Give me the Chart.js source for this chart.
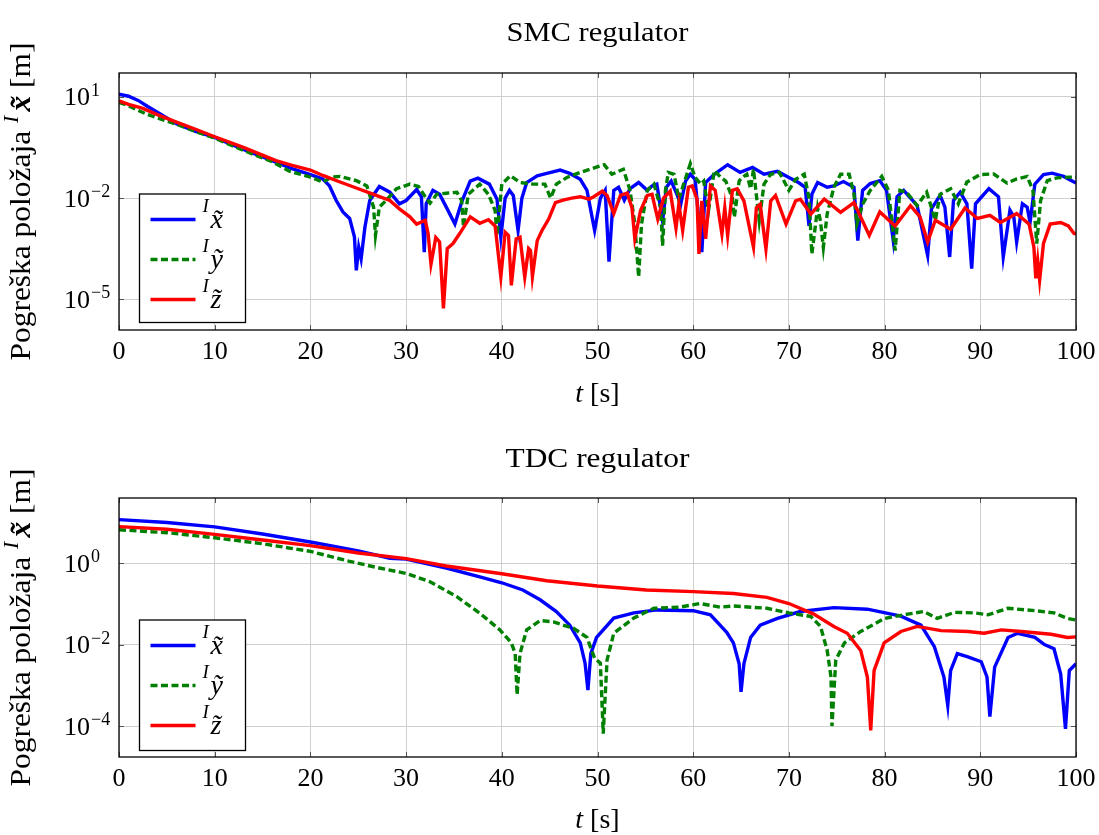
<!DOCTYPE html>
<html>
<head>
<meta charset="utf-8">
<script src="https://cdn.jsdelivr.net/npm/chart.js@4/dist/chart.umd.min.js"></script>
<style>
  html, body { margin: 0; padding: 0; background: #ffffff; }
  #wrap { position: relative; width: 1099px; height: 835px; overflow: hidden; }
  canvas { position: absolute; left: 0; }
  #smc { top: 0; }
  #tdc { top: 417px; }
</style>
</head>
<body>
<div id="wrap">
  <canvas id="smc" width="1099" height="417"></canvas>
  <canvas id="tdc" width="1099" height="418"></canvas>
</div>
<script>
// Position error magnitudes |e| [m] over time t [s], as [t, |e|] pairs.

// ---- SMC regulator ----
const smcX = [
  [0, 12], [1, 10.5], [2, 7.9], [3, 5.2], [4, 3.5], [5, 2.4], [6, 1.6], [8, 0.95], [10, 0.63],
  [13, 0.28], [16, 0.13], [18, 0.076], [20, 0.05], [21.3, 0.037], [22, 0.023], [22.7, 8.5e-3],
  [23.4, 3.9e-3], [24.1, 2.5e-3], [24.6, 7.1e-4], [24.8, 7.2e-5], [25.05, 3.5e-4], [25.3, 1.6e-4],
  [25.7, 1.4e-3], [26.2, 8.5e-3], [27.2, 0.022], [28.3, 0.015], [29.3, 6.8e-3], [30, 8.5e-3],
  [31.1, 0.018], [31.6, 0.011], [31.9, 2.5e-4], [32.1, 6.8e-3], [32.8, 0.017], [33.5, 0.013],
  [34.2, 5.4e-3], [35.1, 1.7e-3], [35.8, 7.6e-3], [36.7, 0.032], [37.5, 0.039], [38.7, 0.026],
  [39.5, 9.3e-3], [39.9, 6.9e-4], [40.35, 0.010], [40.8, 0.017], [41.2, 0.012], [41.7, 1.1e-3],
  [42.1, 0.010], [42.6, 0.029], [43.7, 0.046], [44.7, 0.054], [46.1, 0.068], [47.1, 0.054],
  [48.2, 0.036], [48.9, 0.017], [49.7, 1.1e-3], [50.3, 0.010], [50.8, 0.017], [51.2, 1.3e-4],
  [51.7, 0.017], [52.2, 0.021], [52.8, 8.7e-3], [53.4, 0.019], [54.3, 0.029], [55.2, 0.017],
  [55.7, 0.023], [56.2, 0.026], [56.8, 2.1e-3], [57.2, 0.021], [57.7, 0.032], [58.3, 0.013],
  [58.7, 6.6e-3], [59.2, 0.032], [59.7, 0.051], [60.2, 0.036], [60.9, 2.5e-4], [61.3, 0.029],
  [62.2, 0.051], [63.6, 0.098], [64.9, 0.058], [66.2, 0.081], [67.4, 0.051], [68.8, 0.062],
  [70, 0.041], [71, 0.029], [71.7, 0.021], [72.1, 1.5e-3], [72.4, 0.013], [73, 0.029],
  [74, 0.021], [74.7, 0.023], [75.7, 0.031], [76.8, 0.021], [77.2, 5.5e-4], [77.7, 0.017],
  [78.5, 0.027], [79.5, 0.033], [80.2, 0.017], [80.9, 5.6e-4], [81.3, 0.011], [82, 0.017],
  [83.4, 6.0e-3], [84.5, 2.0e-4], [84.9, 4.8e-3], [85.8, 0.012], [86.3, 5.4e-3], [86.8, 1.8e-4],
  [87.2, 8.5e-3], [87.9, 0.015], [88.6, 6.8e-3], [89.1, 8.1e-5], [89.5, 6.8e-3], [90.9, 0.019],
  [91.9, 0.011], [92.4, 1.8e-4], [93.1, 4.4e-3], [93.5, 2.8e-3], [93.8, 5.0e-4], [94.4, 6.8e-3],
  [94.9, 5.4e-3], [95.2, 1.9e-3], [95.7, 0.026], [96.6, 0.050], [97.5, 0.055], [98.7, 0.044],
  [99.8, 0.030], [100, 0.028]
];
const smcY = [
  [0, 6.9], [1, 5.5], [2, 4.0], [3, 3.0], [4, 2.4], [6, 1.55], [8, 0.95], [10, 0.60], [13, 0.26],
  [16, 0.12], [17.8, 0.063], [20, 0.042], [21.3, 0.030], [22.2, 0.042], [23.1, 0.044], [24.8, 0.033],
  [25.9, 0.023], [26.6, 5.4e-3], [26.8, 7.9e-4], [27.2, 5.4e-3], [27.9, 8.5e-3], [29, 0.019],
  [30.4, 0.026], [31.3, 0.022], [32, 0.011], [32.5, 7.1e-3], [33.2, 0.013], [34.2, 0.014],
  [35.3, 0.015], [35.8, 8.5e-3], [36, 1.4e-3], [36.5, 0.013], [37.7, 0.026], [38.6, 0.013],
  [39.3, 4.3e-3], [39.5, 7.8e-4], [40, 0.026], [40.9, 0.046], [41.9, 0.029], [43.3, 0.026],
  [44.5, 0.026], [45.1, 0.010], [45.7, 0.026], [46.8, 0.041], [48.2, 0.058], [49.8, 0.081],
  [50.7, 0.098], [51.5, 0.051], [52.7, 0.072], [53.4, 0.017], [53.9, 1.7e-3], [54.3, 4.6e-5],
  [54.6, 1.7e-3], [55.2, 0.017], [55.9, 0.026], [56.6, 5.2e-3], [56.8, 3.9e-4], [57.1, 0.017],
  [57.4, 0.058], [58, 0.051], [58.5, 9.3e-3], [59, 0.026], [59.7, 0.105], [60.2, 0.041],
  [60.8, 0.026], [61.1, 0.032], [61.6, 4.3e-3], [62.2, 0.065], [62.9, 0.041], [63.4, 0.032],
  [64.1, 0.010], [64.3, 2.7e-3], [64.8, 0.032], [65.1, 0.041], [65.6, 0.051], [66, 0.019],
  [66.3, 0.072], [66.9, 2.1e-3], [67.4, 0.026], [68.1, 0.051], [69, 0.058], [70, 0.017],
  [70.7, 0.036], [71.6, 0.051], [72.1, 0.010], [72.4, 2.2e-4], [73, 5.2e-3], [73.3, 2.1e-3],
  [73.6, 3.5e-4], [74, 3.4e-3], [74.7, 0.021], [75.4, 0.051], [76.3, 0.051], [76.8, 0.013],
  [77.1, 1.7e-3], [77.7, 6.6e-3], [78.5, 0.017], [79.7, 0.044], [80.4, 0.017], [81.1, 2.8e-4],
  [81.6, 0.017], [82.3, 0.015], [83.4, 6.0e-3], [84.4, 0.015], [85.3, 2.2e-3], [85.8, 0.013],
  [86.9, 0.019], [87.7, 6.8e-3], [88.6, 0.030], [90, 0.050], [91.4, 0.052], [92.8, 0.028],
  [93.8, 0.037], [94.9, 0.044], [95.5, 0.017], [95.7, 2.8e-3], [95.9, 4.5e-4], [96.3, 8.5e-3],
  [97, 0.033], [98, 0.040], [99.4, 0.042], [100, 0.042]
];
const smcZ = [
  [0, 7.6], [1, 6.0], [2.5, 4.6], [4, 3.0], [6, 1.8], [8, 1.1], [10, 0.66], [13, 0.32], [16.4, 0.13],
  [18, 0.095], [20, 0.068], [21.3, 0.047], [23.1, 0.030], [24.8, 0.020], [26.6, 0.013], [28.3, 8.5e-3],
  [29.3, 4.8e-3], [30.4, 2.8e-3], [31.1, 1.7e-3], [32, 2.2e-3], [32.3, 8.9e-4], [32.6, 1.1e-4],
  [33.1, 6.8e-4], [33.5, 5.0e-4], [33.9, 5.4e-6], [34.3, 3.2e-4], [34.9, 4.5e-4], [35.6, 8.9e-4],
  [36.7, 2.8e-3], [37.7, 1.8e-3], [38.6, 2.3e-3], [39.3, 1.5e-3], [39.9, 4.6e-5], [40.35, 9.8e-4],
  [40.7, 7.8e-4], [41, 2.6e-5], [41.5, 6.2e-4], [41.9, 6.9e-4], [42.4, 4.6e-5], [42.8, 3.2e-4],
  [43, 2.8e-4], [43.2, 4.7e-5], [43.7, 5.5e-4], [44.2, 1.1e-3], [44.9, 2.4e-3], [45.6, 7.4e-3],
  [46.4, 8.7e-3], [47.3, 0.010], [48.2, 0.011], [49.1, 9.3e-3], [49.6, 0.011], [50.5, 0.016],
  [51, 0.012], [51.7, 3.5e-3], [52.4, 0.012], [53.1, 0.014], [53.6, 5.2e-3], [53.9, 6.2e-4],
  [54.5, 4.3e-3], [55.2, 0.012], [55.7, 0.013], [56.3, 2.4e-3], [56.9, 0.010], [57.6, 0.016],
  [58.2, 1.3e-3], [58.5, 6.6e-3], [58.9, 1.1e-3], [59.5, 0.021], [59.9, 0.023], [60.4, 9.3e-3],
  [60.6, 2.2e-4], [60.9, 8.3e-3], [61.3, 6.2e-4], [61.8, 0.023], [62.3, 0.017], [63, 8.7e-4],
  [63.3, 5.2e-3], [63.6, 7.8e-4], [64.1, 0.017], [64.6, 0.019], [65.3, 8.3e-3], [66.3, 3.5e-4],
  [66.6, 5.2e-3], [67, 6.6e-3], [67.6, 3.1e-4], [68.1, 8.3e-3], [68.6, 0.012], [69.7, 1.7e-3],
  [70.7, 8.3e-3], [71.2, 9.3e-3], [72.3, 3.4e-3], [73.7, 9.3e-3], [75.4, 3.8e-3], [76.8, 7.4e-3],
  [78.4, 7.8e-4], [79.5, 3.9e-3], [81.1, 1.5e-3], [82.7, 6.0e-3], [83.7, 2.8e-3], [84.5, 5.0e-4],
  [85.3, 2.2e-3], [86.9, 1.2e-3], [88.4, 5.1e-3], [89.7, 2.5e-3], [91, 3.1e-3], [92.1, 1.9e-3],
  [93.8, 3.5e-3], [95.1, 1.7e-3], [95.6, 3.5e-4], [95.8, 4.2e-5], [96, 1.4e-4], [96.2, 3.7e-5],
  [96.6, 4.5e-4], [97.3, 1.7e-3], [98.4, 1.9e-3], [99.2, 1.5e-3], [99.8, 8.9e-4], [100, 8.9e-4]
];

// ---- TDC regulator ----
const tdcX = [
  [0, 11.7], [5, 10.0], [10, 7.8], [15, 5.2], [20, 3.3], [25, 2.0], [28.3, 1.32], [30, 1.26],
  [34.2, 0.76], [37.7, 0.46], [40, 0.33], [42.2, 0.22], [44, 0.126], [45.7, 0.065], [47.1, 0.030],
  [48.2, 0.011], [48.7, 3.5e-3], [49, 7.6e-4], [49.3, 6.0e-3], [49.9, 0.015], [51.7, 0.045],
  [53.8, 0.060], [56.2, 0.071], [60, 0.068], [61.8, 0.054], [63.5, 0.020], [64.2, 0.011],
  [64.8, 3.4e-3], [65, 6.9e-4], [65.3, 3.4e-3], [66, 0.015], [67, 0.030], [68.8, 0.044],
  [71.2, 0.065], [74.7, 0.081], [78.2, 0.074], [81.7, 0.050], [83.8, 0.030], [85.2, 8.9e-3],
  [86.2, 1.6e-3], [86.6, 3.2e-4], [86.9, 2.3e-3], [87.6, 6.0e-3], [88.7, 5.0e-3], [90.1, 3.8e-3],
  [90.7, 1.6e-3], [91, 1.7e-4], [91.5, 2.8e-3], [92.9, 0.015], [93.9, 0.019], [95.7, 0.015],
  [96.7, 0.010], [97.7, 7.9e-3], [98.4, 1.9e-3], [98.9, 8.5e-5], [99.3, 2.3e-3], [100, 3.4e-3]
];
const tdcY = [
  [0, 6.6], [5, 5.6], [10, 4.2], [15, 3.0], [20, 1.95], [24, 1.12], [27.2, 0.76], [30, 0.56],
  [32.5, 0.35], [35.3, 0.15], [37.7, 0.059], [39.8, 0.023], [41, 0.011], [41.4, 6.0e-3],
  [41.6, 5.8e-4], [41.9, 6.0e-3], [42.6, 0.023], [44, 0.039], [45.4, 0.036], [47.5, 0.025],
  [48.9, 0.015], [49.7, 4.6e-3], [50.3, 3.5e-3], [50.6, 6.5e-5], [51, 4.2e-3], [51.7, 0.019],
  [53.8, 0.045], [55.9, 0.078], [58.6, 0.083], [60.7, 0.102], [62.8, 0.083], [64.2, 0.089],
  [67.7, 0.078], [70, 0.060], [72.3, 0.049], [73.3, 0.028], [74, 7.2e-3], [74.4, 1.6e-3],
  [74.5, 1.0e-4], [74.9, 4.2e-3], [75.8, 0.011], [77.5, 0.021], [80, 0.044], [82.4, 0.056],
  [84.1, 0.065], [85.5, 0.044], [87.3, 0.062], [89.4, 0.060], [90.8, 0.054], [92.9, 0.078],
  [95.7, 0.068], [97.7, 0.060], [99.1, 0.044], [100, 0.040]
];
const tdcZ = [
  [0, 7.9], [5, 6.8], [10, 5.1], [15, 3.7], [20, 2.7], [25, 1.78], [30, 1.29], [34.2, 0.85],
  [40, 0.55], [44.7, 0.37], [50, 0.275], [55.1, 0.22], [60, 0.20], [64.2, 0.18], [67.7, 0.145],
  [70, 0.102], [72.6, 0.056], [74.7, 0.028], [76.1, 0.019], [77.5, 7.2e-3], [78.2, 1.6e-3],
  [78.55, 7.8e-5], [78.9, 2.3e-3], [79.95, 0.011], [81.7, 0.021], [83.4, 0.028], [85.9, 0.022],
  [88.7, 0.021], [90.4, 0.019], [92.2, 0.023], [94.3, 0.021], [97.4, 0.018], [99.1, 0.015],
  [100, 0.0155]
];

// Axis setup
const timeTicks = [0, 10, 20, 30, 40, 50, 60, 70, 80, 90, 100];
const smcLogTicks = [1, -2, -5];     // exponents of the labelled decades
const tdcLogTicks = [0, -2, -4];
const smcRange = [-5.91, 1.71];      // log10 limits of the y axis
const tdcRange = [-4.76, 1.60];
const seriesNames = ['x', 'y', 'z'];
const seriesColors = ['#0000ff', '#008000', '#ff0000'];

const SERIF = '"Liberation Serif", "DejaVu Serif", serif';
const f = (size, style) => `${style || ''} ${size}px ${SERIF}`;

// Draws frame, inner ticks, tick labels, axis labels, title and legend.
const decorations = {
  id: 'decorations',
  afterDatasetsDraw(chart, args, o) {
    const ctx = chart.ctx;
    const a = chart.chartArea;
    const xs = chart.scales.x, ys = chart.scales.y;
    ctx.save();

    // inner tick marks
    ctx.strokeStyle = '#555555';
    ctx.lineWidth = 1;
    ctx.beginPath();
    timeTicks.forEach(t => {
      const px = Math.round(xs.getPixelForValue(t)) + 0.5;
      ctx.moveTo(px, a.bottom); ctx.lineTo(px, a.bottom - 5);
      ctx.moveTo(px, a.top); ctx.lineTo(px, a.top + 5);
    });
    o.logTicks.forEach(e => {
      const py = Math.round(ys.getPixelForValue(Math.pow(10, e))) + 0.5;
      ctx.moveTo(a.left, py); ctx.lineTo(a.left + 5, py);
      ctx.moveTo(a.right, py); ctx.lineTo(a.right - 5, py);
    });
    ctx.stroke();

    // frame
    ctx.strokeStyle = '#000000';
    ctx.lineWidth = 1.3;
    ctx.strokeRect(a.left, a.top, a.right - a.left, a.bottom - a.top);

    ctx.fillStyle = '#000000';
    // x tick labels
    ctx.font = f(26);
    ctx.textAlign = 'center';
    ctx.textBaseline = 'alphabetic';
    timeTicks.forEach(t => {
      ctx.fillText(String(t), xs.getPixelForValue(t), a.bottom + 29);
    });

    // y tick labels 10^e
    o.logTicks.forEach(e => {
      const py = ys.getPixelForValue(Math.pow(10, e));
      ctx.font = f(26);
      ctx.textAlign = 'right';
      ctx.fillText('10', 90, py + 8.5);
      ctx.font = f(18);
      ctx.textAlign = 'left';
      ctx.fillText(e < 0 ? '\u2212' + Math.abs(e) : String(e), 91, py - 1);
    });

    // title, set slightly wide like the serif face used elsewhere
    const midX = (a.left + a.right) / 2;
    ctx.font = f(28);
    ctx.textAlign = 'center';
    const tw = ctx.measureText(o.title).width;
    ctx.save();
    ctx.translate(midX, o.titleY);
    ctx.scale(o.titleWidth / tw, 1);
    ctx.fillText(o.title, 0, 0);
    ctx.restore();

    // x axis label: t [s]
    ctx.font = f(28, 'italic');
    const tW = ctx.measureText('t').width;
    ctx.font = f(28);
    const rest = ' [s]';
    const rW = ctx.measureText(rest).width;
    const x0 = midX - (tW + rW) / 2;
    ctx.textAlign = 'left';
    ctx.font = f(28, 'italic');
    ctx.fillText('t', x0, a.bottom + o.xLabelOffset);
    ctx.font = f(28);
    ctx.fillText(rest, x0 + tW, a.bottom + o.xLabelOffset);

    // y axis label (rotated)
    const parts = [
      { s: 'Pogreška položaja ', font: f(29), dy: 0 },
      { s: 'I', font: f(20, 'italic'), dy: -12 },
      { s: 'x\u0303', font: f(29, 'italic bold'), dy: 0 },
      { s: ' [m]', font: f(29), dy: 0 }
    ];
    let total = 0;
    parts.forEach(p => { ctx.font = p.font; p.w = ctx.measureText(p.s).width; total += p.w; });
    total += 4;
    ctx.translate(30, (a.top + a.bottom) / 2);
    ctx.rotate(-Math.PI / 2);
    ctx.scale(o.yLabelLength / total, 1);
    let cx = -total / 2;
    parts.forEach((p, i) => {
      ctx.font = p.font;
      ctx.fillText(p.s, cx, p.dy);
      cx += p.w + (i === 1 ? 4 : 0);
    });
    ctx.setTransform(1, 0, 0, 1, 0, 0);

    // legend
    const lb = o.legend;
    ctx.fillStyle = '#ffffff';
    ctx.fillRect(lb.x, lb.y, lb.w, lb.h);
    ctx.strokeStyle = '#000000';
    ctx.lineWidth = 1.3;
    ctx.strokeRect(lb.x, lb.y, lb.w, lb.h);
    chart.data.datasets.forEach((ds, i) => {
      const cy = lb.y + 25.5 + i * 40;
      ctx.strokeStyle = ds.borderColor;
      ctx.lineWidth = ds.borderWidth;
      ctx.setLineDash(ds.borderDash || []);
      ctx.beginPath();
      ctx.moveTo(lb.x + 11, cy);
      ctx.lineTo(lb.x + 56, cy);
      ctx.stroke();
      ctx.setLineDash([]);
      ctx.fillStyle = '#000000';
      ctx.font = f(19, 'italic');
      ctx.fillText('I', lb.x + 63, cy - 8);
      ctx.font = f(28, 'italic');
      ctx.fillText(seriesNames[i] + '\u0303', lb.x + 71, cy + 8);
    });
    ctx.restore();
  }
};

function buildChart(canvasId, series, logTicks, range, deco, pad, xHeight) {
  return new Chart(document.getElementById(canvasId), {
    type: 'line',
    data: {
      datasets: series.map((data, i) => ({
        label: seriesNames[i],
        data: data,
        borderColor: seriesColors[i],
        borderWidth: 3.4,
        borderDash: i === 1 ? [7, 3.5] : [],
        pointRadius: 0,
        tension: 0,
        fill: false,
        order: 2 - i
      }))
    },
    options: {
      responsive: false,
      animation: false,
      events: [],
      layout: { padding: pad },
      plugins: {
        legend: { display: false },
        tooltip: { enabled: false },
        title: { display: false },
        decorations: deco
      },
      scales: {
        x: {
          type: 'linear',
          min: 0,
          max: 100,
          afterBuildTicks(s) { s.ticks = timeTicks.map(v => ({ value: v })); },
          ticks: { display: false },
          grid: { color: '#cfcfcf', lineWidth: 1, drawTicks: false },
          border: { display: false },
          afterFit(s) { s.height = xHeight; }
        },
        y: {
          type: 'logarithmic',
          min: Math.pow(10, range[0]),
          max: Math.pow(10, range[1]),
          afterBuildTicks(s) { s.ticks = logTicks.map(e => ({ value: Math.pow(10, e) })); },
          ticks: { display: false },
          grid: { color: '#cfcfcf', lineWidth: 1, drawTicks: false },
          border: { display: false },
          afterFit(s) { s.width = 119; }
        }
      }
    },
    plugins: [decorations]
  });
}

buildChart('smc', [smcX, smcY, smcZ], smcLogTicks, smcRange,
  { title: 'SMC regulator', titleY: 41, titleWidth: 182, xLabelOffset: 72, yLabelLength: 318,
    logTicks: smcLogTicks, legend: { x: 139.5, y: 194, w: 106, h: 128.5 } },
  { top: 73, right: 23, left: 0, bottom: 0 }, 87);

buildChart('tdc', [tdcX, tdcY, tdcZ], tdcLogTicks, tdcRange,
  { title: 'TDC regulator', titleY: 50, titleWidth: 184, xLabelOffset: 71, yLabelLength: 318,
    logTicks: tdcLogTicks, legend: { x: 139.5, y: 203, w: 106, h: 130.5 } },
  { top: 81, right: 23, left: 0, bottom: 0 }, 78);
</script>
</body>
</html>
